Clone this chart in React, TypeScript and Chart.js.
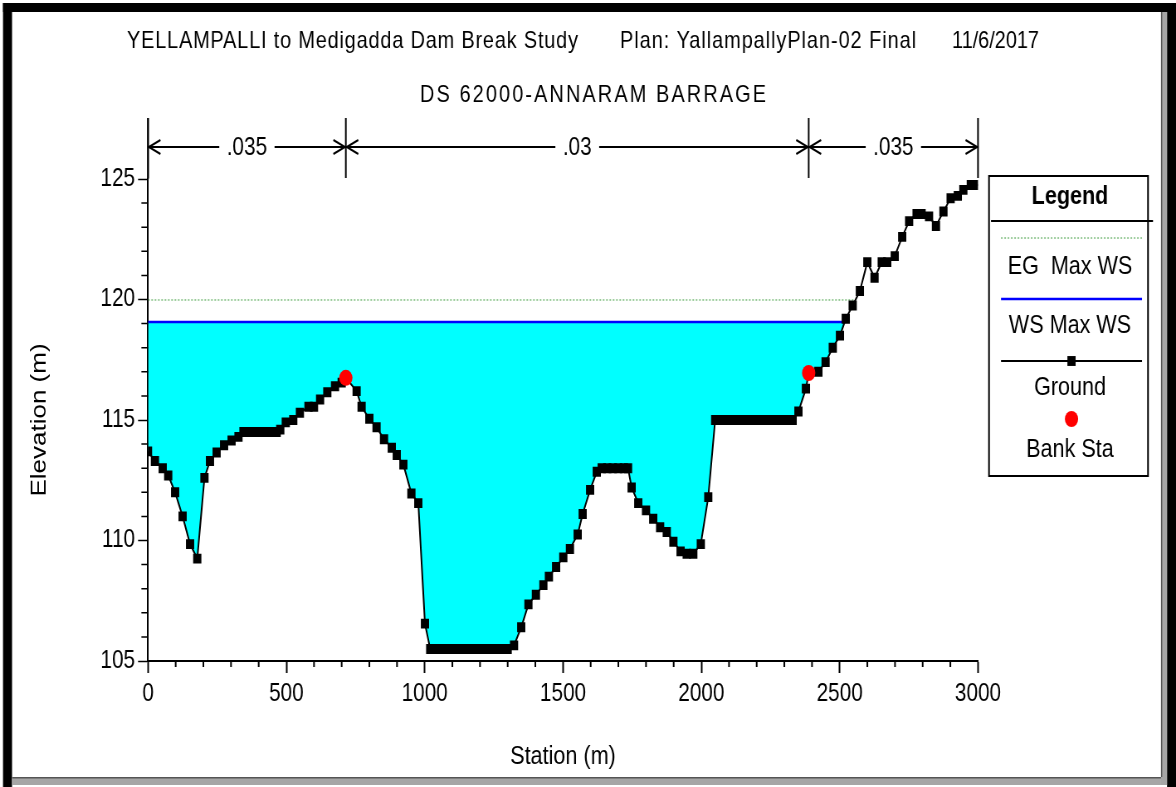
import React, { useEffect, useRef } from 'react';
import { Chart, registerables } from 'chart.js';

Chart.register(...registerables);

// ---- Cross-section survey: station (m) / ground elevation (m) ----
const groundStation = [
  0, 25, 53, 73, 98, 125, 152, 178, 204, 224, 248, 275, 302, 327,
  345, 365, 385, 405, 425, 445, 465, 478, 498, 525, 549, 580, 600, 622,
  648, 676, 700, 715, 754, 772, 800, 826, 853, 881, 899, 923, 952, 977,
  1001, 1020, 1040, 1060, 1080, 1100, 1120, 1140, 1160, 1180, 1200, 1220,
  1240, 1260, 1280, 1300, 1323, 1349, 1375, 1402, 1429, 1449, 1475, 1501,
  1525, 1553, 1571, 1598, 1622, 1640, 1660, 1680, 1700, 1720, 1735, 1748,
  1772, 1800, 1826, 1851, 1875, 1899, 1925, 1947, 1971, 1998, 2025, 2050,
  2070, 2090, 2110, 2130, 2150, 2170, 2190, 2210, 2230, 2250, 2270, 2290,
  2310, 2330, 2351, 2378, 2388, 2423, 2449, 2475, 2501, 2522, 2547, 2573,
  2600, 2626, 2652, 2672, 2699, 2726, 2751, 2778, 2796, 2823, 2848, 2875,
  2901, 2927, 2947, 2974, 3000,
];
const groundElevation = [
  113.7, 113.3, 113.0, 112.7, 112.0, 111.0, 109.85, 109.25, 112.6, 113.3, 113.65, 113.95, 114.15, 114.3,
  114.5, 114.5, 114.5, 114.5, 114.5, 114.5, 114.5, 114.6, 114.9, 115.0, 115.3, 115.55, 115.55, 115.85,
  116.15, 116.4, 116.55, 116.75, 116.2, 115.55, 115.05, 114.7, 114.2, 113.85, 113.55, 113.15, 111.95, 111.55,
  106.55, 105.5, 105.5, 105.5, 105.5, 105.5, 105.5, 105.5, 105.5, 105.5, 105.5, 105.5,
  105.5, 105.5, 105.5, 105.5, 105.65, 106.4, 107.35, 107.75, 108.15, 108.5, 108.9, 109.3,
  109.65, 110.25, 111.1, 112.1, 112.85, 113.0, 113.0, 113.0, 113.0, 113.0, 113.0, 112.2,
  111.55, 111.25, 110.9, 110.55, 110.35, 109.95, 109.55, 109.45, 109.45, 109.85, 111.8, 115.0,
  115.0, 115.0, 115.0, 115.0, 115.0, 115.0, 115.0, 115.0, 115.0, 115.0, 115.0, 115.0,
  115.0, 115.0, 115.35, 116.3, 116.95, 117.0, 117.4, 118.0, 118.5, 119.2, 119.75, 120.35,
  121.55, 120.9, 121.55, 121.55, 121.8, 122.6, 123.25, 123.55, 123.55, 123.45, 123.05, 123.65,
  124.2, 124.3, 124.55, 124.75, 124.75,
];

// Bank stations (left / right)
const bankStation = [715, 2388];
const bankElevation = [116.75, 116.95];

// Max water surface and energy grade, with the stations they span
const wsElevation = 119.07;
const wsReach = [0, 2519];
const egElevation = 119.98;
const egReach = [0, 2556];

// Manning's n breaks and values
const nBreaks = [0, 715, 2388, 3000];
const nValues = ['.035', '.03', '.035'];

// Axes
const xTicks = [0, 500, 1000, 1500, 2000, 2500, 3000];
const yTicks = [105, 110, 115, 120, 125];
const xMinorStep = 100;
const yMinorStep = 1;

const titleLine1 = ['YELLAMPALLI to Medigadda Dam Break Study', 'Plan: YallampallyPlan-02 Final', '11/6/2017'];
const titleLine2 = 'DS 62000-ANNARAM BARRAGE';
const legendHeading = 'Legend';

// The drawing surface is wider than its on-page box, giving the narrow plot look.
const PAGE_W = 1176;
const W = 1417;
const H = 787;
const SX = W / PAGE_W;
const cx = (v: number) => v * SX;

const FONT = "'Liberation Sans', Arial, Helvetica, sans-serif";

function spreadText(ctx: CanvasRenderingContext2D, text: string, x0: number, x1: number, y: number) {
  (ctx as any).letterSpacing = '0px';
  const w = ctx.measureText(text).width;
  const n = text.length;
  const ls = n > 1 ? (x1 - x0 - w) / (n - 1) : 0;
  (ctx as any).letterSpacing = `${ls}px`;
  ctx.textAlign = 'left';
  ctx.fillText(text, x0, y);
  (ctx as any).letterSpacing = '0px';
}

const sectionDecor = {
  id: 'sectionDecor',
  afterDraw(chart: any) {
    const { ctx, chartArea, scales } = chart;
    const xs = scales.x;
    const ys = scales.y;
    ctx.save();
    ctx.strokeStyle = '#000';
    ctx.fillStyle = '#000';

    // minor ticks
    ctx.lineWidth = 2;
    ctx.beginPath();
    for (let v = xs.min; v <= xs.max; v += xMinorStep) {
      if (xTicks.includes(v)) continue;
      const p = xs.getPixelForValue(v);
      ctx.moveTo(p, chartArea.bottom);
      ctx.lineTo(p, chartArea.bottom + 6);
    }
    ctx.stroke();
    ctx.lineWidth = 1.5;
    ctx.beginPath();
    for (let v = ys.min; v <= ys.max; v += yMinorStep) {
      if (yTicks.includes(v)) continue;
      const p = ys.getPixelForValue(v);
      ctx.moveTo(chartArea.left - 8, p);
      ctx.lineTo(chartArea.left, p);
    }
    ctx.stroke();

    // Manning's n breaks above the plot
    const topY = 118;
    const arrowY = 147;
    ctx.lineWidth = 2;
    ctx.beginPath();
    nBreaks.forEach((s) => {
      const p = xs.getPixelForValue(s);
      ctx.moveTo(p, topY);
      ctx.lineTo(p, 178);
    });
    ctx.stroke();
    ctx.font = `25px ${FONT}`;
    ctx.textBaseline = 'middle';
    ctx.textAlign = 'center';
    for (let i = 0; i < nValues.length; i++) {
      const a = xs.getPixelForValue(nBreaks[i]);
      const b = xs.getPixelForValue(nBreaks[i + 1]);
      const mid = (a + b) / 2;
      const half = ctx.measureText(nValues[i]).width / 2 + 9;
      ctx.fillText(nValues[i], mid, arrowY + 1);
      ctx.beginPath();
      ctx.moveTo(a, arrowY);
      ctx.lineTo(mid - half, arrowY);
      ctx.moveTo(mid + half, arrowY);
      ctx.lineTo(b, arrowY);
      // arrow heads
      ctx.moveTo(a + 15, arrowY - 7);
      ctx.lineTo(a + 1, arrowY);
      ctx.lineTo(a + 15, arrowY + 7);
      ctx.moveTo(b - 15, arrowY - 7);
      ctx.lineTo(b - 1, arrowY);
      ctx.lineTo(b - 15, arrowY + 7);
      ctx.stroke();
    }

    // titles
    ctx.font = `24px ${FONT}`;
    ctx.textBaseline = 'middle';
    spreadText(ctx, titleLine1[0], cx(127), cx(578), 41);
    spreadText(ctx, titleLine1[1], cx(620), cx(916), 41);
    spreadText(ctx, titleLine1[2], cx(952), cx(1039), 41);
    spreadText(ctx, titleLine2, cx(420), cx(766), 95);

    // legend box
    const bl = cx(989), br = cx(1148), bt = 176, bb = 476;
    ctx.lineWidth = 2;
    ctx.strokeRect(bl, bt, br - bl, bb - bt);
    ctx.beginPath();
    ctx.moveTo(cx(991), 221);
    ctx.lineTo(cx(1153), 221);
    ctx.stroke();
    const lx = cx(1070);
    ctx.textAlign = 'center';
    ctx.font = `bold 26px ${FONT}`;
    ctx.fillText(legendHeading, lx, 197);
    ctx.font = `26px ${FONT}`;
    const sampleY = [238, 299, 361, 419];
    const textY = [267, 326, 388, 450];
    const s0 = cx(1001), s1 = cx(1142);
    chart.data.datasets.forEach((ds: any, i: number) => {
      const y = sampleY[i];
      ctx.save();
      if (ds.showLine !== false) {
        ctx.strokeStyle = ds.borderColor;
        ctx.lineWidth = ds.borderWidth;
        ctx.setLineDash(ds.borderDash || []);
        ctx.beginPath();
        ctx.moveTo(s0, y);
        ctx.lineTo(s1, y);
        ctx.stroke();
        ctx.setLineDash([]);
      }
      if (ds.pointRadius > 0) {
        const mx = (s0 + s1) / 2;
        ctx.fillStyle = ds.pointBackgroundColor;
        ctx.beginPath();
        if (ds.pointStyle === 'rect') {
          const h = Math.SQRT1_2 * ds.pointRadius;
          ctx.rect(mx - h, y - h, 2 * h, 2 * h);
        } else {
          ctx.arc(mx, y, ds.pointRadius, 0, Math.PI * 2);
        }
        ctx.fill();
      }
      ctx.restore();
      ctx.fillStyle = '#000';
      ctx.fillText(ds.label, lx, textY[i]);
    });

    // window frame
    ctx.fillStyle = '#000';
    ctx.fillRect(cx(3), 3, W - cx(3), 9);
    ctx.fillRect(cx(3), 3, cx(9), H - 3);
    ctx.fillRect(cx(1167), 3, W - cx(1167), H - 3);
    ctx.fillStyle = '#a6a6a6';
    ctx.fillRect(cx(1161), 12, cx(6), 773);
    ctx.fillRect(cx(12), 777, cx(1161) - cx(12), 8);
    ctx.fillStyle = '#555';
    ctx.fillRect(cx(12), 777, cx(1161) - cx(12), 1.5);
    ctx.fillRect(cx(1161), 12, cx(1.2), 765);

    ctx.restore();
  },
  beforeDraw(chart: any) {
    const { ctx, chartArea, scales } = chart;
    // y axis line continues up to the n-value strip
    ctx.save();
    ctx.strokeStyle = '#000';
    ctx.lineWidth = 2;
    ctx.beginPath();
    const x = scales.x.getPixelForValue(nBreaks[0]);
    ctx.moveTo(x, 118);
    ctx.lineTo(x, chartArea.top);
    ctx.stroke();
    ctx.restore();
  },
};

export default function App() {
  const ref = useRef<HTMLCanvasElement | null>(null);

  useEffect(() => {
    if (!ref.current) return;
    const ground = groundStation.map((x, i) => ({ x, y: groundElevation[i] }));
    const banks = bankStation.map((x, i) => ({ x, y: bankElevation[i] }));

    const chart = new Chart(ref.current, {
      type: 'line',
      data: {
        datasets: [
          {
            label: 'EG  Max WS',
            data: egReach.map((x) => ({ x, y: egElevation })),
            borderColor: '#3a9a3a',
            borderWidth: 1,
            borderDash: [2, 2],
            pointRadius: 0,
            fill: false,
            order: 3,
          },
          {
            label: 'WS Max WS',
            data: wsReach.map((x) => ({ x, y: wsElevation })),
            borderColor: '#0000ff',
            borderWidth: 2.5,
            backgroundColor: '#00ffff',
            pointRadius: 0,
            fill: 2,
            order: 2,
          },
          {
            label: 'Ground',
            data: ground,
            borderColor: '#000',
            borderWidth: 2,
            pointStyle: 'rect',
            pointRadius: 7,
            pointBorderWidth: 0,
            pointBackgroundColor: '#000',
            fill: false,
            order: 1,
          },
          {
            label: 'Bank Sta',
            data: banks,
            showLine: false,
            pointStyle: 'circle',
            pointRadius: 8,
            pointBorderWidth: 0,
            pointBackgroundColor: '#ff0000',
            borderColor: '#ff0000',
            order: 0,
          },
        ] as any,
      },
      options: {
        responsive: false,
        animation: false,
        devicePixelRatio: 1,
        events: [],
        layout: { padding: { left: 0, right: W - cx(978), top: 179, bottom: 0 } },
        plugins: {
          legend: { display: false },
          tooltip: { enabled: false },
          title: { display: false },
        },
        scales: {
          x: {
            type: 'linear',
            min: 0,
            max: 3000,
            afterFit: (s: any) => { s.height = H - 661; },
            afterBuildTicks: (s: any) => { s.ticks = xTicks.map((value) => ({ value })); },
            ticks: {
              autoSkip: false,
              maxRotation: 0,
              padding: 6,
              color: '#000',
              font: { family: FONT, size: 25 },
              callback: (v: any) => String(v),
            },
            grid: { drawOnChartArea: false, drawTicks: true, tickLength: 12, tickWidth: 2, tickColor: '#000' },
            border: { display: true, color: '#000', width: 2 },
            title: {
              display: true,
              text: 'Station (m)',
              color: '#000',
              font: { family: FONT, size: 26 },
              padding: { top: 0, bottom: 14.4 },
            },
          },
          y: {
            type: 'linear',
            min: 105,
            max: 125,
            afterFit: (s: any) => { s.width = cx(148); },
            afterBuildTicks: (s: any) => { s.ticks = yTicks.map((value) => ({ value })); },
            ticks: {
              autoSkip: false,
              padding: 3.6,
              color: '#000',
              font: { family: FONT, size: 25 },
              callback: (v: any) => String(v),
            },
            grid: { drawOnChartArea: false, drawTicks: true, tickLength: 12, tickWidth: 1.5, tickColor: '#000' },
            border: { display: true, color: '#000', width: 2 },
            title: {
              display: true,
              text: 'Elevation (m)',
              color: '#000',
              font: { family: FONT, size: 26 },
              padding: { top: 32.6, bottom: 0 },
            },
          },
        },
      } as any,
      plugins: [sectionDecor],
    });
    return () => chart.destroy();
  }, []);

  return (
    <div style={{ position: 'absolute', left: 0, top: 0, width: PAGE_W, height: H, background: '#fff' }}>
      <canvas
        ref={ref}
        width={W}
        height={H}
        style={{ width: `${PAGE_W}px`, height: `${H}px`, display: 'block' }}
      />
    </div>
  );
}
